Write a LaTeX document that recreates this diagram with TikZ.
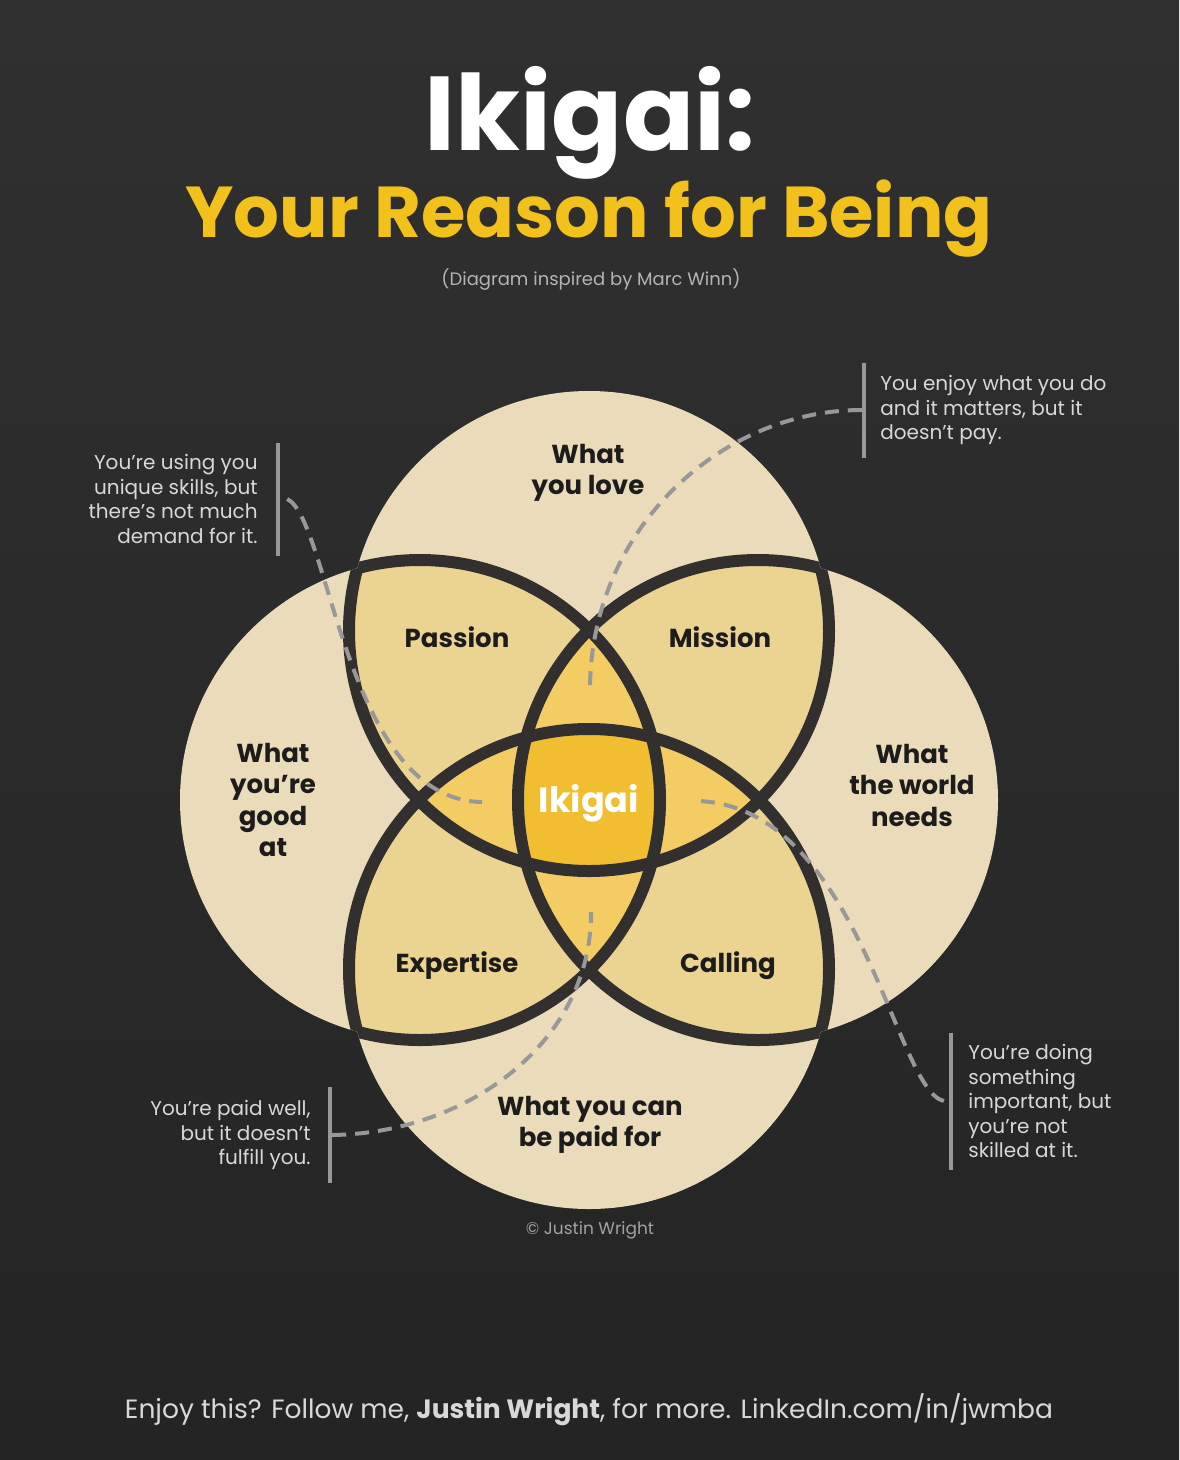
\documentclass[tikz,border=0pt]{standalone}
\usepackage{fontspec}
\setmainfont{Poppins}
\usepackage{xcolor}
\usetikzlibrary{positioning}
\definecolor{bgtop}{RGB}{48,48,48}
\definecolor{bgbot}{RGB}{36,36,36}
\definecolor{zonefill}{RGB}{234,220,186}
\definecolor{pairfill}{RGB}{235,212,145}
\definecolor{petalfill}{RGB}{243,205,100}
\definecolor{corefill}{RGB}{240,190,48}
\definecolor{rimink}{RGB}{50,48,46}
\definecolor{gold}{RGB}{242,193,28}
\definecolor{ink}{RGB}{28,28,28}
\definecolor{mist}{RGB}{216,216,216}
\definecolor{haze}{RGB}{180,180,180}
\definecolor{wire}{RGB}{152,152,152}
\def\rad{240}

\begin{document}
\begin{tikzpicture}[x=1pt,y=-1pt,
  zonetext/.style={font=\bfseries\fontsize{26}{31.5}\selectfont,text=ink,align=center},
  calltext/.style={font=\fontsize{20}{24.5}\selectfont,text=mist,inner sep=0pt},
  callbar/.style={fill=wire,inner sep=0pt,minimum width=4pt},
  leader/.style={draw=wire,line width=4pt,dash pattern=on 14pt off 9pt},
  rimline/.style={draw=rimink,line width=12pt}
]
\useasboundingbox (0,0) rectangle (1179,1460);
\shade[top color=bgtop,bottom color=bgbot] (0,0) rectangle (1179,1460);

% heading
\node[font=\bfseries\fontsize{105}{105}\selectfont,text=white,anchor=base] (title) at (590,150) {Ikigai:};
\node[font=\bfseries\fontsize{72}{72}\selectfont,text=gold,anchor=base] (subtitle) at (589,237) {Your Reason for Being};
\node[font=\fontsize{18}{18}\selectfont,text=haze,anchor=base] (credit) at (591,285) {(Diagram inspired by Marc Winn)};

% the four circles
\coordinate (cT) at (589,631);
\coordinate (cL) at (420,800);
\coordinate (cR) at (758,800);
\coordinate (cB) at (589,969);
\fill[zonefill] (cT) circle[radius=\rad] (cL) circle[radius=\rad] (cR) circle[radius=\rad] (cB) circle[radius=\rad];
\foreach \a/\b in {T/L,T/R,T/B,L/R,L/B,R/B}{
  \begin{scope}
    \clip (c\a) circle[radius=\rad];
    \fill[pairfill] (c\b) circle[radius=\rad];
  \end{scope}
}
\foreach \a/\b/\c in {T/L/R,T/L/B,T/R/B,L/R/B}{
  \begin{scope}
    \clip (c\a) circle[radius=\rad];
    \clip (c\b) circle[radius=\rad];
    \fill[petalfill] (c\c) circle[radius=\rad];
  \end{scope}
}
\begin{scope}
  \clip (cT) circle[radius=\rad];
  \clip (cL) circle[radius=\rad];
  \clip (cR) circle[radius=\rad];
  \fill[corefill] (cB) circle[radius=\rad];
\end{scope}
% outlines inside the other circles
\foreach \a/\b/\c/\d in {T/L/R/B,L/T/R/B,R/T/L/B,B/T/L/R}{
  \begin{scope}
    \clip (c\b) circle[radius=\rad] (c\c) circle[radius=\rad] (c\d) circle[radius=\rad];
    \draw[rimline] (c\a) circle[radius=\rad];
  \end{scope}
}

% zone labels
\node[zonetext] (love) at (588,473) {What\\you love};
\node[zonetext] (good) at (273,800) {What\\you’re\\good\\at};
\node[zonetext] (needs) at (912,785) {What\\the world\\needs};
\node[zonetext] (paid) at (590,1125) {What you can\\be paid for};
\node[zonetext] (passion) at (457,637) {Passion};
\node[zonetext] (mission) at (720,637) {Mission};
\node[zonetext] (expertise) at (457,966) {Expertise};
\node[zonetext] (calling) at (728,966) {Calling};
\node[zonetext,text=white,font=\bfseries\fontsize{35}{35}\selectfont] (ikigai) at (589,803) {Ikigai};

% petal ends of the leaders
\coordinate (petalN) at (590,690);
\coordinate (petalW) at (482,802);
\coordinate (petalE) at (700,801);
\coordinate (petalS) at (591,912);

% call-outs
\node[callbar,minimum height=113pt] (barA) at (278,499) {};
\node[calltext,align=right,left=18pt of barA] (noteA) {You’re using you\\unique skills, but\\there’s not much\\demand for it.};
\node[callbar,minimum height=95pt] (barB) at (864,410) {};
\node[calltext,align=left,right=14pt of barB] (noteB) {You enjoy what you do\\and it matters, but it\\doesn’t pay.};
\node[callbar,minimum height=96pt] (barC) at (330,1135) {};
\node[calltext,align=right,left=17pt of barC] (noteC) {You’re paid well,\\but it doesn’t\\fulfill you.};
\node[callbar,minimum height=137pt] (barD) at (951,1101) {};
\node[calltext,align=left,right=15pt of barD] (noteD) {You’re doing\\something\\important, but\\you’re not\\skilled at it.};

\draw[leader] ([xshift=7pt]barA.east) .. controls (330,520) and (345,800) .. (petalW);
\draw[leader] (barB.west) .. controls (720,410) and (590,530) .. (petalN);
\draw[leader] (barC.east) .. controls (470,1133) and (592,1040) .. (petalS);
\draw[leader] ([xshift=-5pt]barD.west) .. controls (895,1090) and (860,810) .. (petalE);

% footer
\node[font=\fontsize{17}{17}\selectfont,text=haze!90!black,anchor=base] (copy) at (590,1234) {© Justin Wright};
\node[font=\fontsize{26.5}{26.5}\selectfont,text=mist,anchor=base] (follow) at (589,1418) {Enjoy this? Follow me, \textbf{Justin Wright}, for more. LinkedIn.com/in/jwmba};
\end{tikzpicture}
\end{document}
